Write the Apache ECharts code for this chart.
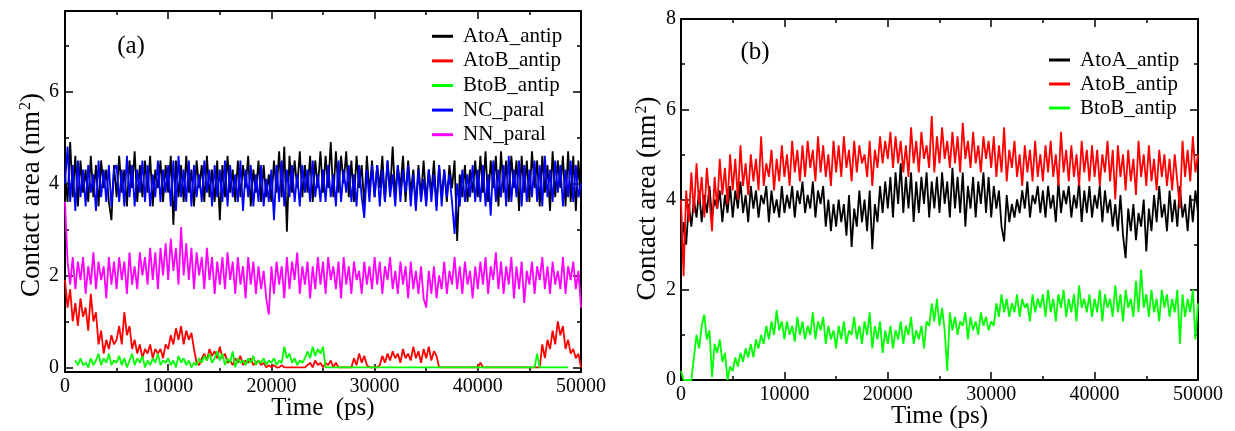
<!DOCTYPE html>
<html><head><meta charset="utf-8">
<script src="https://cdn.jsdelivr.net/npm/echarts@6/dist/echarts.min.js"></script>
<style>html,body{margin:0;padding:0;background:#fff}#c{width:1235px;height:431px}</style>
</head><body><div id="c"></div>
<script>
// ---------------- data ----------------
const sampleStepPs = 250;            // one value every 250 ps, 0 .. 50000 ps
const xTickValues = [0, 10000, 20000, 30000, 40000, 50000];
const yTicksA = [0, 2, 4, 6];
const yMinorA = [1, 3, 5, 7];
const yTicksB = [0, 2, 4, 6, 8];
const legendA = ['AtoA_antip', 'AtoB_antip', 'BtoB_antip', 'NC_paral', 'NN_paral'];
const legendB = ['AtoA_antip', 'AtoB_antip', 'BtoB_antip'];

// Panel (a)
const aAtoA = [
4.2,3.6,4.9,3.7,4.6,3.5,4.5,3.8,4.3,3.6,4.6,3.7,4.4,3.5,4.5,3.9,4.3,3.6,3.2,4.4,
3.7,4.6,3.8,4.3,3.5,4.5,3.9,4.7,3.6,4.4,3.7,4.5,3.8,4.6,3.5,4.3,3.9,4.5,3.6,4.4,
3.8,4.6,3.1,4.5,3.7,4.4,3.6,4.6,3.8,4.3,3.5,4.5,3.9,4.4,3.6,4.6,3.7,4.3,3.6,4.5,
3.2,4.4,3.7,4.6,3.8,4.3,3.6,4.5,3.7,4.4,3.9,4.6,3.5,4.3,3.8,4.5,3.6,4.4,3.7,4.2,
3.6,4.5,3.8,4.7,3.7,4.8,2.95,4.6,3.8,4.5,3.9,4.7,3.7,4.4,3.8,4.6,3.6,4.5,3.9,4.7,
3.8,4.6,3.9,4.9,3.7,4.7,3.8,4.6,4.0,4.7,3.7,4.5,3.6,4.6,3.9,4.4,3.5,4.6,3.8,4.5,
3.7,4.4,3.9,4.6,3.6,4.5,3.8,4.8,3.7,4.4,3.9,4.6,3.6,4.5,3.8,4.3,3.5,4.4,3.7,4.5,
3.6,4.3,3.8,4.5,3.5,4.4,3.7,4.3,3.6,4.4,3.9,4.5,2.75,4.2,3.7,4.4,3.6,4.3,3.8,4.5,
3.7,4.6,3.8,4.7,3.6,4.5,3.9,4.6,3.5,4.7,3.8,4.5,3.6,4.6,3.9,4.5,3.4,4.6,3.8,4.5,
3.6,4.7,3.9,4.5,3.5,4.6,3.8,4.4,3.4,4.7,3.7,4.5,3.9,4.6,3.5,4.7,3.6,4.6,3.4,4.5,
3.6];
const aAtoB = [
1.9,1.3,1.7,1.0,1.4,0.9,1.5,1.1,1.3,0.8,1.6,1.0,1.2,0.5,0.8,0.3,0.6,0.4,0.7,0.5,
0.6,0.9,0.5,1.2,0.7,0.9,0.4,0.6,0.3,0.5,0.2,0.4,0.3,0.5,0.2,0.4,0.3,0.4,0.2,0.5,
0.4,0.7,0.5,0.85,0.6,0.9,0.5,0.8,0.6,0.75,0.4,0.1,0.05,0.2,0.3,0.15,0.4,0.25,0.35,0.2,
0.45,0.2,0.3,0.1,0.15,0.05,0.2,0.1,0.25,0.05,0.15,0.1,0.2,0.05,0.1,0.15,0.05,0.1,0,0.05,
0,0.05,0,0,0.05,0,0,0,0,0,0,0,0,0,0.05,0.1,0,0.15,0.05,0.1,
0,0.1,0.05,0.15,0,0.1,0,0,0,0,0,0,0.2,0.05,0.3,0.1,0.25,0.05,0,0,
0,0,0.05,0.25,0.1,0.3,0.15,0.35,0.2,0.3,0.1,0.4,0.2,0.3,0.15,0.45,0.2,0.35,0.1,0.4,
0.2,0.45,0.15,0.35,0.25,0,0,0,0,0,0,0,0,0,0,0,0,0,0,0,
0,0.1,0,0,0,0,0,0,0,0,0,0,0,0,0,0,0,0,0,0,
0,0,0,0,0,0.5,0.2,0.6,0.4,0.8,0.5,1.0,0.7,0.9,0.4,0.6,0.3,0.4,0.2,0.3,
0];
const aBtoB = [
null,null,null,null,0.15,0.05,0.2,0.05,0.1,0,0.2,0.05,0.15,0.3,0.05,0.2,0.1,0.3,0.05,0.15,
0.1,0.25,0.05,0.2,0,0.15,0.3,0.05,0.2,0.1,0.25,0,0.15,0.05,0.2,0.1,0.3,0.05,0.15,0.1,
0.2,0.05,0.15,0,0.25,0.1,0.2,0.05,0.15,0,0.1,0.05,0.2,0.1,0.25,0.15,0.3,0.1,0.2,0.35,
0.15,0.3,0.05,0.2,0.1,0.35,0,0.2,0.1,0.15,0.05,0.2,0.1,0.25,0.05,0.15,0.1,0.2,0.05,0.15,
0.1,0.2,0.05,0.15,0.1,0.45,0.2,0.3,0.1,0.2,0.05,0.15,0.1,0.2,0.35,0.2,0.45,0.25,0.4,0.3,
0.45,0,0,0,0,0,0,0,0,0,0,0,0,0,0,0,0,0,0,0,
0,0,0,0,0,0,0,0,0,0,0,0,0,0,0,0,0,0,0,0,
0,0,0,0,0,0,0,0,0,0,0,0,0,0,0,0,0,0,0,0,
0,0,0,0,0,0,0,0,0,0,0,0,0,0,0,0,0,0,0,0,
0,0,0,0.3,0,0,0,0,0,0,0,0,0,0,0,0,null,null,null,null,
null];
const aNC = [
4.0,4.8,3.6,4.4,3.4,4.5,3.7,4.3,3.5,4.4,3.8,4.2,3.4,4.5,3.7,4.3,3.6,4.4,3.5,4.3,
4.4,3.6,4.3,3.5,4.6,3.7,4.4,3.5,4.3,3.8,4.5,3.6,4.4,3.5,4.2,3.7,4.5,3.6,4.3,3.8,
4.4,3.5,4.5,3.4,4.6,3.7,4.3,3.6,4.5,3.5,4.4,3.7,4.2,3.6,4.5,3.8,4.3,3.5,4.4,3.7,
4.3,3.6,4.5,3.5,4.4,3.7,4.2,3.6,4.5,3.4,4.3,3.7,4.4,3.5,4.2,3.6,4.4,3.5,4.1,3.6,
4.3,3.2,4.4,3.6,4.5,3.5,4.3,3.7,4.4,3.6,4.2,3.5,4.4,3.8,4.3,3.6,4.5,3.7,4.2,3.6,
4.3,3.6,4.4,3.7,4.2,3.5,4.5,3.6,4.3,3.8,4.4,3.6,4.2,3.5,4.4,3.7,3.25,4.3,3.6,4.4,
3.7,4.4,3.5,4.3,3.6,4.5,3.7,4.2,3.5,4.4,3.6,4.3,3.8,4.4,3.5,4.2,3.4,4.3,3.6,4.1,
3.5,4.3,3.6,4.2,3.4,4.4,3.5,4.3,3.7,4.2,3.6,2.9,4.0,3.5,4.3,3.6,4.2,3.7,4.4,3.6,
4.3,3.6,4.4,3.5,4.2,3.3,4.5,3.6,4.3,3.7,4.4,3.5,4.6,3.6,4.3,3.7,4.5,3.5,4.4,3.6,
4.3,3.7,4.5,3.6,4.4,3.5,4.6,3.7,4.3,3.6,4.5,3.8,4.4,3.5,4.3,3.7,4.5,3.6,4.4,3.7,
4.0];
const aNN = [
3.6,2.3,1.8,2.4,1.7,2.3,1.9,2.4,1.6,2.2,1.8,2.5,1.7,2.3,1.9,2.2,1.5,2.4,1.8,2.3,
1.7,2.4,1.9,2.3,1.6,2.5,1.8,2.2,1.7,2.5,2.0,2.4,1.8,2.6,1.9,2.5,1.7,2.6,2.0,2.7,
1.9,2.8,2.1,2.6,1.8,3.05,2.0,2.7,1.9,2.6,1.7,2.5,2.0,2.4,1.7,2.6,1.9,2.4,1.6,2.3,
1.8,2.4,1.7,2.5,1.9,2.3,1.6,2.4,1.8,2.2,1.5,2.4,1.8,2.3,1.6,2.2,1.7,2.1,1.5,1.15,
2.2,1.6,2.3,1.8,2.2,1.5,2.4,1.7,2.3,1.9,2.5,1.6,2.2,1.8,2.3,1.5,2.2,1.7,2.4,1.8,
2.3,1.6,2.4,1.9,2.2,1.7,2.3,1.5,2.4,1.8,2.2,1.6,2.3,1.9,2.1,1.6,2.3,1.8,2.2,1.7,
2.4,1.8,2.3,1.6,2.2,1.9,2.4,1.7,2.1,1.6,2.3,1.8,2.2,1.5,2.3,1.7,2.1,1.6,2.2,1.5,
1.3,2.1,1.6,2.2,1.5,2.0,1.7,2.3,1.6,2.1,1.8,2.4,1.7,2.2,1.6,2.3,1.8,2.1,1.5,2.2,
1.7,2.3,1.8,2.4,1.6,2.2,1.9,2.5,1.7,2.3,1.6,2.2,1.8,2.4,1.5,2.2,1.7,2.3,1.4,2.1,
1.8,2.3,1.6,2.2,1.9,2.4,1.7,2.2,1.6,2.3,1.8,2.1,1.7,2.4,1.6,2.2,1.9,2.3,1.7,2.1,
1.3];

// Panel (b)
const bAtoA = [
2.8,3.5,3.0,3.9,3.4,4.0,3.6,4.2,3.5,4.1,3.7,4.3,3.6,4.0,3.8,4.2,3.5,4.1,3.7,4.3,
3.6,4.2,3.8,4.4,3.7,4.1,3.5,4.3,3.8,4.2,3.6,4.1,3.9,4.3,3.5,4.2,3.7,4.0,3.6,4.3,
3.7,4.1,3.8,4.3,3.6,4.2,3.9,4.4,3.7,4.1,3.8,4.4,3.6,4.2,3.9,4.3,3.4,4.0,3.3,3.9,
3.4,4.0,3.5,3.9,3.2,4.1,2.95,3.8,3.4,4.2,3.5,4.0,3.3,4.2,2.9,3.9,3.5,4.3,3.7,4.4,
3.8,4.5,3.6,4.6,3.9,4.8,3.7,4.5,3.8,4.6,3.5,4.4,3.7,4.5,3.9,4.6,3.6,4.4,3.8,4.5,
3.7,4.6,3.9,4.4,3.6,4.7,3.8,4.5,3.7,4.6,3.4,4.3,3.8,4.5,3.6,4.4,3.9,4.6,3.7,4.5,
3.6,4.3,3.8,4.2,3.4,3.07,4.1,3.5,3.9,3.6,4.0,3.7,4.2,3.8,4.4,3.6,4.1,3.9,4.3,3.7,
4.2,3.6,4.3,3.8,4.1,3.5,4.4,3.7,4.2,3.9,4.3,3.6,4.1,3.8,4.4,3.5,4.2,3.7,4.3,3.6,
4.1,3.8,4.3,3.5,4.2,3.7,4.0,3.4,3.9,3.3,4.1,3.2,2.7,3.8,3.3,3.9,3.1,3.7,3.4,4.0,
2.85,3.8,3.3,4.1,3.5,4.3,3.6,3.9,3.3,4.2,3.5,4.0,3.4,4.3,3.6,3.9,3.3,4.1,3.5,4.2,
3.7];
const bAtoB = [
4.0,2.3,4.2,3.5,4.6,3.7,4.8,3.9,4.5,3.6,4.7,4.0,3.3,4.5,3.8,4.9,4.1,4.7,3.9,5.0,
4.2,4.9,4.0,5.2,4.3,4.8,4.1,5.0,4.4,4.9,4.2,5.4,4.3,4.8,4.5,5.1,4.2,4.9,4.4,5.2,
4.5,5.0,4.3,5.3,4.6,5.1,4.4,5.2,4.5,5.3,4.7,5.1,4.4,5.4,4.6,5.2,4.5,5.0,4.3,5.3,
4.6,5.2,4.5,5.4,4.7,5.1,4.4,5.3,4.6,5.2,4.8,5.0,4.5,5.3,4.3,5.1,4.7,5.4,4.8,5.3,
4.9,5.5,4.7,5.4,4.8,5.3,4.6,5.2,4.5,5.6,4.8,5.3,4.6,5.5,4.9,5.2,4.7,5.85,4.6,5.4,
4.8,5.6,4.9,5.3,4.7,5.5,4.8,5.4,4.6,5.7,4.9,5.3,4.7,5.5,4.8,5.2,4.6,5.4,4.9,5.3,
4.7,5.4,4.5,5.2,4.6,5.6,4.4,5.1,4.7,5.3,4.5,5.0,4.3,5.2,4.6,5.1,4.4,5.3,4.5,5.0,
4.4,5.2,4.6,5.3,4.5,5.0,4.3,5.5,4.6,5.1,4.4,5.2,4.5,5.0,4.3,5.3,4.6,5.1,4.4,5.2,
4.5,5.1,4.3,5.0,4.6,5.3,4.4,5.1,4.0,5.2,4.5,5.0,4.2,5.1,4.4,4.9,4.1,5.3,4.5,5.0,
4.3,5.2,4.4,4.9,4.2,5.1,4.5,5.0,4.3,4.9,4.2,5.0,4.4,3.8,5.3,4.5,5.1,4.4,5.4,4.6,
5.0];
const bBtoB = [
0.2,0,0,0,0,0.5,1.0,0.7,1.2,1.45,0.9,1.1,0.07,0.8,0.6,0.9,0.4,0.6,0,0.3,
0.2,0.5,0.3,0.6,0.4,0.7,0.5,0.8,0.5,0.9,0.7,1.0,0.8,1.2,0.9,1.3,1.0,1.55,1.1,1.3,
0.9,1.3,1.0,1.2,0.85,1.4,1.0,1.3,0.9,1.2,1.0,1.5,0.9,1.3,1.1,1.4,0.8,1.2,0.9,1.1,
0.7,1.2,0.9,1.3,0.8,1.1,1.0,1.4,0.9,1.2,0.8,1.3,1.0,1.5,0.7,1.2,0.9,1.3,0.6,1.1,
0.8,1.2,0.7,1.1,0.9,1.3,0.8,1.2,1.0,1.4,0.8,1.1,0.9,1.2,0.7,1.3,1.2,1.7,1.3,1.8,
1.2,1.6,1.1,0.2,1.5,1.1,1.4,1.0,1.3,1.2,1.5,0.9,1.4,1.1,1.3,1.0,1.5,1.2,1.4,1.1,
1.3,1.2,1.7,1.4,1.9,1.5,1.8,1.4,1.7,1.5,1.9,1.4,1.8,1.6,1.7,1.3,1.9,1.5,1.8,1.6,
1.9,1.4,2.0,1.5,1.8,1.3,1.9,1.6,2.0,1.4,1.8,1.5,1.9,1.3,2.1,1.6,1.8,1.5,1.9,1.4,
1.8,1.5,2.0,1.3,1.9,1.6,1.8,1.4,2.1,1.5,1.9,1.3,2.0,1.6,1.8,1.4,2.2,1.5,2.45,1.6,
1.9,1.4,2.0,1.5,1.8,1.3,2.0,1.6,1.9,1.4,1.8,1.5,2.0,0.8,1.9,1.4,1.8,1.5,2.0,0.9,
1.7];

// ---------------- chart ----------------
const FONT = 'Liberation Serif';
const BLACK = '#000000';
const colors = { AtoA_antip: '#000000', AtoB_antip: '#ff0000', BtoB_antip: '#00ff00', NC_paral: '#0000ff', NN_paral: '#ff00ff' };

function pairs(vals) { return vals.map((v, i) => [i * sampleStepPs, v]); }
const plainNum = v => String(v);

const tickStyle = { color: BLACK, width: 1.5 };
function xAxis(gi, pos, name) {
  return {
    type: 'value', gridIndex: gi, position: pos, min: 0, max: 50000, interval: 10000,
    axisLine: { show: true, onZero: false, lineStyle: { color: BLACK, width: 2 } },
    axisTick: { show: true, inside: true, length: 8, lineStyle: tickStyle },
    minorTick: { show: true, splitNumber: 2, length: 4, lineStyle: tickStyle },
    splitLine: { show: false }, minorSplitLine: { show: false },
    axisLabel: { show: pos === 'bottom', margin: 5, formatter: plainNum, fontFamily: FONT, fontSize: 20, color: BLACK },
    name: name || '', nameLocation: 'middle', nameGap: 24, nameMoveOverlap: false,
    nameTextStyle: { fontFamily: FONT, fontSize: 25, color: BLACK }
  };
}
const yName = '{m|Contact area (nm}{s|2}{m|)}';
function yNameStyle(pad) {
  return {
    fontFamily: FONT, color: BLACK, padding: pad,
    rich: {
      m: { fontFamily: FONT, fontSize: 27, color: BLACK, lineHeight: 27, verticalAlign: 'bottom' },
      s: { fontFamily: FONT, fontSize: 16, color: BLACK, lineHeight: 16, verticalAlign: 'top', padding: [0, 0, 19, 1] }
    }
  };
}
function yAxisA(pos, vals, len, major, withName) {
  return {
    type: 'value', gridIndex: 0, position: pos, min: -0.1, max: 7.75,
    axisLine: { show: major, onZero: false, lineStyle: { color: BLACK, width: 2 } },
    axisTick: { show: true, inside: true, length: len, customValues: vals, lineStyle: tickStyle },
    splitLine: { show: false },
    axisLabel: { show: major && pos === 'left', customValues: vals, margin: 6, formatter: plainNum, fontFamily: FONT, fontSize: 20, color: BLACK },
    name: withName ? yName : '', nameLocation: 'middle', nameRotate: 90, nameGap: 20, nameMoveOverlap: false,
    nameTextStyle: yNameStyle([0, 7, 0, 0])
  };
}
function yAxisB(pos, withName) {
  return {
    type: 'value', gridIndex: 1, position: pos, min: 0, max: 8, interval: 2,
    axisLine: { show: true, onZero: false, lineStyle: { color: BLACK, width: 2 } },
    axisTick: { show: true, inside: true, length: 8, lineStyle: tickStyle },
    minorTick: { show: true, splitNumber: 2, length: 4, lineStyle: tickStyle },
    splitLine: { show: false }, minorSplitLine: { show: false },
    axisLabel: { show: pos === 'left', margin: 5, formatter: plainNum, fontFamily: FONT, fontSize: 20, color: BLACK },
    name: withName ? yName : '', nameLocation: 'middle', nameRotate: 90, nameGap: 20, nameMoveOverlap: false,
    nameTextStyle: yNameStyle([0, 0, 0, 2])
  };
}
function line(name, vals, xi, yi) {
  return {
    type: 'line', name: name, xAxisIndex: xi, yAxisIndex: yi, data: pairs(vals),
    showSymbol: false, symbol: 'none', connectNulls: false,
    lineStyle: { color: colors[name], width: 1.8 }, itemStyle: { color: colors[name] },
    animation: false
  };
}
function legend(data, left, top, lh) {
  return {
    orient: 'vertical', left: left, top: top, itemWidth: 21, itemHeight: 3, itemGap: 0,
    icon: 'rect', data: data, selectedMode: false,
    textStyle: { fontFamily: FONT, fontSize: 21, color: BLACK, lineHeight: lh, padding: [0, 0, 0, 5] }
  };
}

const chart = echarts.init(document.getElementById('c'), null, { renderer: 'canvas' });
chart.setOption({
  animation: false,
  backgroundColor: '#ffffff',
  grid: [
    { left: 65, top: 11, width: 516, height: 361, outerBoundsMode: 'none', containLabel: false },
    { left: 681, top: 19, width: 517, height: 361, outerBoundsMode: 'none', containLabel: false }
  ],
  xAxis: [
    xAxis(0, 'bottom', 'Time  (ps)'), xAxis(0, 'top'),
    xAxis(1, 'bottom', 'Time (ps)'), xAxis(1, 'top')
  ],
  yAxis: [
    yAxisA('left', yTicksA, 8, true, true), yAxisA('left', yMinorA, 4, false, false),
    yAxisA('right', yTicksA, 8, true, false), yAxisA('right', yMinorA, 4, false, false),
    yAxisB('left', true), yAxisB('right', false)
  ],
  legend: [legend(legendA, 427, 19, 24.6), legend(legendB, 1044, 43, 24)],
  graphic: [
    { type: 'text', x: 131, y: 46, style: { text: '(a)', fontFamily: FONT, fontSize: 25, fill: BLACK, align: 'center', verticalAlign: 'middle' } },
    { type: 'text', x: 755, y: 52, style: { text: '(b)', fontFamily: FONT, fontSize: 25, fill: BLACK, align: 'center', verticalAlign: 'middle' } }
  ],
  series: [
    line('AtoA_antip', aAtoA, 0, 0),
    line('AtoB_antip', aAtoB, 0, 0),
    line('BtoB_antip', aBtoB, 0, 0),
    line('NC_paral', aNC, 0, 0),
    line('NN_paral', aNN, 0, 0),
    line('AtoA_antip', bAtoA, 2, 4),
    line('AtoB_antip', bAtoB, 2, 4),
    line('BtoB_antip', bBtoB, 2, 4)
  ]
});
</script>
</body></html>
